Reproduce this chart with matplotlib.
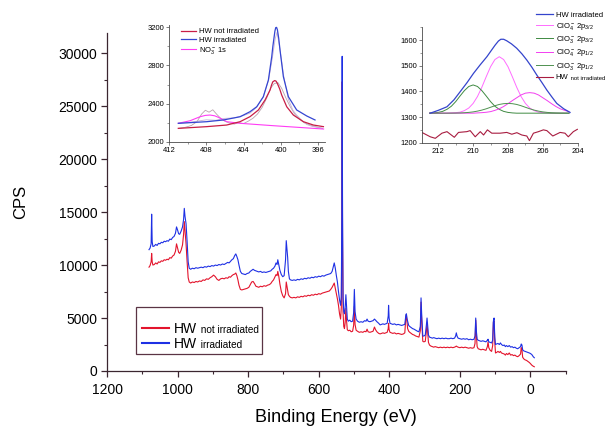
import matplotlib
matplotlib.use('Agg')
import matplotlib.pyplot as plt
from matplotlib.patches import Rectangle
from matplotlib.ticker import MultipleLocator, FixedLocator
from matplotlib.transforms import IdentityTransform

plt.rcParams['font.family'] = ['Liberation Sans', 'DejaVu Sans']
plt.rcParams['mathtext.fontset'] = 'custom'
plt.rcParams['mathtext.rm'] = 'Liberation Sans'
plt.rcParams['mathtext.it'] = 'Liberation Sans:italic'
plt.rcParams['mathtext.bf'] = 'Liberation Sans:bold'

# ---- survey spectrum (binding energy in eV, counts per second) ----
survey_be = [
    1081, 1078, 1075, 1073.5, 1072, 1070, 1066, 1062, 1058, 1054,
    1050, 1046, 1042, 1038, 1034, 1030, 1026, 1022, 1018, 1014,
    1010, 1006, 1003, 1000, 997, 994, 990, 986, 983, 981,
    979, 976, 973, 970, 967, 963, 958, 953, 948, 943,
    938, 933, 928, 923, 918, 913, 908, 903, 898, 893,
    888, 883, 878, 873, 868, 863, 858, 854, 850, 846,
    842, 838, 835, 832, 829, 826, 822, 818, 813, 808,
    803, 798, 794, 790, 786, 782, 778, 774, 770, 765,
    760, 755, 750, 745, 740, 736, 732, 728, 724, 721,
    718, 716, 713, 710, 706, 702, 698, 694, 692, 690,
    688, 686, 683, 680, 675, 670, 665, 660, 655, 650,
    645, 640, 635, 630, 625, 620, 615, 610, 605, 600,
    595, 590, 585, 580, 575, 570, 566, 562, 559, 556,
    553, 550, 547, 544, 541, 538, 536, 534.5, 533.5, 532.5,
    531, 529, 527, 525, 523, 521, 519, 516, 512, 508,
    504, 501, 499, 497, 494, 490, 485, 480, 475, 470,
    466, 463, 460, 455, 450, 446, 442, 439, 435, 430,
    426, 422, 418, 414, 410, 406, 403, 402, 400.5, 398,
    394, 390, 385, 380, 375, 370, 365, 360, 356, 353,
    351.5, 350, 348, 345, 342, 338, 334, 330, 325, 320,
    316, 312, 310, 308, 305, 302, 298, 295, 293, 291,
    289, 286, 282, 278, 274, 270, 265, 260, 255, 250,
    245, 240, 235, 230, 225, 220, 215, 212, 210, 208,
    205, 200, 195, 190, 185, 180, 175, 170, 165, 160,
    157, 155, 153, 151, 148, 144, 140, 135, 130, 126,
    122, 120, 118, 114, 110, 107, 105, 103, 101, 99,
    96, 92, 88, 85, 82, 78, 74, 71, 68, 64,
    60, 56, 52, 48, 44, 40, 36, 32, 28, 26,
    24, 22, 19, 15, 11, 7, 3, 0, -4, -8,
    -11,
]

survey_irr = [
    11450, 11600, 12000, 14800, 12200, 11750, 11800, 11950, 11850, 12050,
    12000, 12150, 12100, 12250, 12200, 12300, 12250, 12450, 12400, 12600,
    12700, 13000, 13600, 13300, 12950, 12900, 13200, 13600, 14300, 15350,
    14600, 13900, 12200, 10300, 9700, 9600, 9700, 9650, 9750, 9700,
    9750, 9800, 9750, 9850, 9800, 9900, 9850, 9950, 9900, 10000,
    9950, 10050, 10000, 10100, 10050, 10150, 10250, 10200, 10350, 10500,
    10600, 10900, 11050, 10800, 10500, 10000, 9400, 9200, 9150, 9100,
    9200, 9250, 9400, 9500, 9600, 9500, 9450, 9400, 9350, 9400,
    9300, 9350, 9300, 9350, 9400, 9450, 9600, 9700, 9900, 10200,
    10050, 10500, 10000, 9500, 9100, 8900, 9000, 10500, 12300, 11500,
    10700, 9400, 8700, 8600, 8550, 8600, 8550, 8650, 8600, 8700,
    8650, 8750, 8700, 8800, 8750, 8850, 8800, 8900, 8850, 8950,
    8900, 9000, 8950, 9050, 9100, 9150, 9200, 9400, 9800, 10200,
    9700, 9000, 8400, 7500, 6700, 6200, 7000, 15000, 29700, 15000,
    7000, 5600, 5400, 6000, 7200, 6000, 4900, 4700, 4800, 4650,
    4700, 5500, 7700, 5600, 4900, 4700, 4600, 4650, 4600, 4750,
    4700, 4900, 4700, 4650, 4700, 4750, 4900, 4800, 4650, 4500,
    4350, 4400, 4450, 4400, 4450, 4500, 5200, 6200, 5000, 4500,
    4450, 4400, 4450, 4350, 4400, 4350, 4300, 4350, 4400, 5300,
    5400, 5000, 4700, 4300, 4200, 4100, 4000, 3950, 3850, 3750,
    3700, 4200, 6900, 5200, 3300, 3300, 3400, 4300, 5000, 4200,
    3400, 3200, 3150, 3100, 3150, 3100, 3050, 3100, 3050, 3100,
    3050, 3100, 3050, 3050, 3100, 3050, 3100, 3300, 3600, 3300,
    3100, 3050, 3000, 3050, 3000, 3050, 2950, 3000, 2950, 3000,
    3300, 5000, 3700, 3000, 2900, 2850, 2800, 2850, 2800, 2750,
    2900, 3000, 2750, 2700, 2650, 2900, 4700, 5000, 3200, 2500,
    2550, 2600, 2500, 2650, 2500, 2400, 2450, 2300, 2400, 2300,
    2400, 2250, 2300, 2200, 2250, 2150, 2100, 2200, 2300, 2550,
    2450, 2000, 1900, 1850, 1800, 1750, 1700, 1650, 1550, 1350,
    1250,
]

survey_not = [
    9800, 9950, 10300, 11100, 10300, 10000, 10050, 10200, 10100, 10300,
    10250, 10400, 10350, 10500, 10450, 10550, 10500, 10700, 10650, 10850,
    10950, 11300, 12000, 11600, 11200, 11100, 11400, 11900, 12900, 14100,
    13300, 12000, 10300, 8800, 8400, 8300, 8400, 8350, 8450, 8400,
    8500, 8450, 8600, 8550, 8700, 8650, 8800, 8900, 9050, 8900,
    8650, 8550, 8700, 8750, 8700, 8800, 8750, 8900, 8850, 9000,
    9100, 9150, 9250, 9000, 8600, 8100, 7700, 7650, 7700, 7750,
    7800, 7900, 8150, 8400, 8450, 8250, 8000, 7950, 7900, 8000,
    7950, 8050, 8000, 8100, 8150, 8250, 8450, 8600, 8900, 9100,
    9000, 9400, 8900, 8200, 7500, 7100, 6900, 7300, 8400, 8000,
    7600, 7200, 7050, 6950, 6900, 6950, 6900, 7000, 6950, 7050,
    7000, 7100, 7050, 7150, 7100, 7200, 7150, 7250, 7200, 7300,
    7250, 7350, 7400, 7450, 7500, 7550, 7700, 7900, 8100, 8300,
    7800, 7300, 6800, 6200, 5400, 4900, 6000, 13000, 27300, 13000,
    5500, 4200, 4000, 4600, 5900, 4700, 3900, 3800, 3850, 3700,
    3750, 4300, 6100, 4400, 3850, 3750, 3650, 3700, 3650, 3750,
    3700, 3950, 3700, 3650, 3700, 3750, 4150, 3900, 3700, 3550,
    3500, 3550, 3600, 3550, 3600, 3650, 4000, 4500, 3900, 3650,
    3600, 3550, 3600, 3500, 3550, 3500, 3450, 3500, 3600, 5100,
    5300, 4700, 4000, 3750, 3650, 3550, 3450, 3400, 3300, 3250,
    3200, 3800, 6500, 4600, 2800, 2750, 2800, 3700, 4500, 3600,
    2700, 2450, 2350, 2300, 2250, 2300, 2250, 2200, 2250, 2200,
    2250, 2200, 2250, 2200, 2250, 2200, 2250, 2300, 2350, 2300,
    2250, 2200, 2250, 2200, 2250, 2200, 2150, 2200, 2150, 2200,
    2600, 4800, 3300, 2300, 2100, 2050, 2000, 2050, 2000, 1950,
    2300, 2750, 2200, 1950, 1850, 2400, 4600, 4700, 2700, 1700,
    1750, 1850, 1750, 1850, 1700, 1650, 1600, 1500, 1650, 1550,
    1700, 1500, 1550, 1450, 1500, 1400, 1350, 1450, 1600, 2200,
    2000, 1300, 1150, 1050, 1000, 900, 800, 700, 550, 450,
    400,
]

# ---- inset 1: N 1s region ----
n1s_irr_be = [411.0, 407.95, 406.16, 404.37, 403.3, 402.58, 401.87, 401.33, 400.97, 400.85,
              400.72, 400.63, 400.54, 400.45, 400.36, 400.22, 400.08, 399.72, 399.18, 398.29,
              397.21, 396.32]
n1s_irr = [2193, 2210, 2228, 2262, 2315, 2367, 2472, 2647, 2892, 3000,
           3095, 3160, 3198, 3200, 3175, 3085, 2962, 2682, 2472, 2333,
           2270, 2228]

n1s_not_be = [411.0, 407.95, 405.81, 404.37, 403.3, 402.4, 401.69, 401.15, 401.0, 400.86,
              400.65, 400.5, 400.36, 400.12, 399.9, 399.36, 398.65, 397.57, 396.5, 395.42]
n1s_not = [2140, 2158, 2175, 2210, 2263, 2333, 2437, 2542, 2592, 2628,
           2642, 2635, 2610, 2555, 2490, 2367, 2280, 2210, 2175, 2158]

no3_be = [411.0, 409.74, 408.67, 408.1, 407.6, 407.1, 406.7, 405.8, 404.37, 400.8, 395.4]
no3 = [2193, 2220, 2262, 2276, 2280, 2272, 2256, 2210, 2193, 2168, 2133]

raw_irr_be = [411, 410, 409, 408, 407, 406, 405, 404, 403.3, 402.6, 401.9, 401.3, 400.9,
              400.6, 400.4, 400.1, 399.7, 399.2, 398.7, 398.3, 397.8, 397.2, 396.6, 396.0, 395.5]
raw_irr = [2195, 2200, 2215, 2230, 2225, 2245, 2250, 2275, 2300, 2360, 2470, 2650, 2880,
           3080, 3150, 2980, 2700, 2450, 2330, 2280, 2230, 2180, 2160, 2150, 2140]

raw_not_be = [411, 410.3, 409.6, 409.0, 408.5, 408.1, 407.7, 407.3, 406.9, 406.5, 406.0,
              405.5, 405, 404.5, 404, 403.5, 403, 402.5, 402, 401.5, 401.1, 400.7, 400.3,
              399.9, 399.5, 399, 398.5, 398, 397.5, 397, 396.5, 396, 395.5]
raw_not = [2140, 2150, 2170, 2210, 2290, 2330, 2310, 2335, 2290, 2250, 2215,
           2195, 2185, 2200, 2190, 2215, 2245, 2290, 2360, 2460, 2560, 2610, 2620,
           2560, 2470, 2370, 2290, 2240, 2200, 2180, 2165, 2150, 2140]

# ---- inset 2: Cl 2p region ----
cl_be = [212.5, 212.25, 212, 211.75, 211.5, 211.25, 211, 210.75, 210.5, 210.25, 210,
         209.75, 209.5, 209.25, 209, 208.75, 208.5, 208.25, 208, 207.75, 207.5, 207.25,
         207, 206.75, 206.5, 206.25, 206, 205.75, 205.5, 205.25, 205, 204.75, 204.5]
cl_base = 1315
clo4_32 = [0, 0, 0, 0, 0, 1, 2, 4, 10, 20, 38, 65, 101, 142, 181, 209, 220,
           209, 181, 142, 101, 65, 38, 20, 10, 4, 2, 1, 0, 0, 0, 0, 0]
clo3_32 = [0.4, 1, 3, 7, 15, 27, 45, 67, 88, 104, 110, 104, 88, 67, 45, 27, 15,
           7, 3, 1, 0, 0, 0, 0, 0, 0, 0, 0, 0, 0, 0, 0, 0]
clo4_12 = [0, 0, 0, 0, 0, 0, 0, 0, 0, 0, 0, 1, 2, 3.5, 6, 11, 17,
           26, 37, 49, 60, 71, 78, 80, 78, 71, 60, 49, 37, 26, 17, 11, 6]
clo3_12 = [0, 0, 0, 0, 0.1, 0.2, 0.4, 0.9, 1.7, 3, 5, 8, 12, 17, 23, 29, 34,
           37, 38, 37, 34, 29, 23, 17, 12, 8, 5, 3, 1.7, 0.9, 0.4, 0.2, 0.1]

cl_irr_be = [212.46, 212.0, 211.5, 211.1, 210.74, 210.35, 209.98, 209.6, 209.21, 208.95,
             208.74, 208.55, 208.41, 208.25, 208.07, 207.8, 207.5, 207.2, 206.92, 206.63,
             206.35, 206.05, 205.77, 205.48, 205.2, 204.8, 204.44]
cl_irr = [1315, 1326, 1340, 1367, 1399, 1434, 1470, 1503, 1535, 1560,
          1580, 1596, 1603, 1603, 1597, 1585, 1568, 1546, 1522, 1494,
          1464, 1434, 1405, 1378, 1353, 1332, 1318]

cl_not_be = [212.94, 212.46, 212.17, 211.79, 211.5, 211.08, 210.84, 210.36, 210.17, 209.88,
             209.59, 209.4, 209.18, 208.93, 208.45, 208.07, 207.78, 207.49, 207.21, 206.92,
             206.77, 206.54, 206.25, 205.97, 205.77, 205.43, 205.01, 204.73, 204.54, 204.25, 204.02]
cl_not = [1240, 1223, 1217, 1237, 1243, 1221, 1240, 1243, 1247, 1223,
          1243, 1230, 1250, 1237, 1237, 1240, 1233, 1239, 1230, 1226,
          1208, 1237, 1243, 1250, 1247, 1226, 1240, 1237, 1223, 1243, 1252]

RED = '#e3142c'
BLUE = '#1e30e4'
AXC = '#3b2630'

fig = plt.figure(figsize=(6.06, 4.29), dpi=100)
fig.patch.set_facecolor('white')

# main survey axes
ax = fig.add_axes([0.1766, 0.1352, 0.7569, 0.7879])
l_not, = ax.plot(survey_be, survey_not, color=RED, lw=0.8)
l_irr, = ax.plot(survey_be, survey_irr, color=BLUE, lw=0.8)
ax.set_xlim(1200, -100)
ax.set_ylim(0, 31900)
ax.xaxis.set_major_locator(FixedLocator([1200, 1000, 800, 600, 400, 200, 0]))
ax.xaxis.set_minor_locator(MultipleLocator(100))
ax.yaxis.set_major_locator(MultipleLocator(5000))
ax.yaxis.set_minor_locator(MultipleLocator(2500))
for s in ['top', 'right']:
    ax.spines[s].set_visible(False)
for s in ['left', 'bottom']:
    ax.spines[s].set_color(AXC)
    ax.spines[s].set_linewidth(0.9)
ax.tick_params(which='major', direction='out', length=4.5, width=0.9, color=AXC,
               labelsize=10, pad=2.5)
ax.tick_params(axis='x', which='major', pad=4)
ax.tick_params(which='minor', direction='out', length=2.5, width=0.8, color=AXC)
ax.set_xlabel('Binding Energy (eV)', fontsize=13, labelpad=9)
ax.set_ylabel('CPS', fontsize=12, labelpad=22)

ax.add_patch(Rectangle((0.0626, 0.0503), 0.275, 0.139, transform=ax.transAxes,
                       fill=False, ec='#5a3444', lw=0.9))
leg = ax.legend([l_not, l_irr], ['HW', 'HW'], loc='center left',
                bbox_to_anchor=(0.0756, 0.103), frameon=False, fontsize=10,
                handlelength=1.95, handletextpad=0.4, labelspacing=0.05,
                borderpad=0, borderaxespad=0)
for h in leg.get_lines():
    h.set_linewidth(1.5)


def style_inset(a):
    for s in ['top', 'right']:
        a.spines[s].set_visible(False)
    for s in ['left', 'bottom']:
        a.spines[s].set_color('#4a4a4a')
        a.spines[s].set_linewidth(0.6)
    a.tick_params(which='major', direction='out', length=2, width=0.5,
                  color='#4a4a4a', labelsize=5.5, pad=1.5)
    a.tick_params(which='minor', direction='out', length=1.2, width=0.4,
                  color='#4a4a4a')
    a.patch.set_alpha(0)


# inset 1: N 1s
ax1 = fig.add_axes([0.2789, 0.6697, 0.2574, 0.272])
ax1.plot(raw_not_be, raw_not, color='#b9a3ad', lw=0.6)
ax1.plot(raw_irr_be, raw_irr, color='#c7b2d6', lw=0.6)
p_no3, = ax1.plot(no3_be, no3, color='#ff3cf5', lw=0.8)
p_not, = ax1.plot(n1s_not_be, n1s_not, color='#c81e46', lw=0.9)
p_irr, = ax1.plot(n1s_irr_be, n1s_irr, color='#3546d2', lw=0.9)
ax1.set_xlim(412, 395.25)
ax1.set_ylim(2000, 3225)
ax1.xaxis.set_major_locator(FixedLocator([412, 408, 404, 400, 396]))
ax1.xaxis.set_minor_locator(MultipleLocator(2))
ax1.yaxis.set_major_locator(MultipleLocator(400))
ax1.yaxis.set_minor_locator(MultipleLocator(200))
style_inset(ax1)
leg1 = ax1.legend([p_not, p_irr, p_no3],
                  ['HW not irradiated', 'HW irradiated', r'NO$_3^-$ 1s'],
                  loc='upper left', bbox_to_anchor=(0.058, 1.0), fontsize=5.5,
                  handlelength=2.0, handletextpad=0.4, labelspacing=0.15,
                  borderpad=0.4, borderaxespad=0, fancybox=False,
                  edgecolor='#c9b9c1', framealpha=0)
leg1.get_frame().set_linewidth(0.6)

# inset 2: Cl 2p
ax2 = fig.add_axes([0.6959, 0.6674, 0.2574, 0.2704])
c1, = ax2.plot(cl_be, [cl_base + v for v in clo4_32], color='#ff6cff', lw=0.7)
c2, = ax2.plot(cl_be, [cl_base + v for v in clo3_32], color='#3f8a42', lw=0.7)
c3, = ax2.plot(cl_be, [cl_base + v for v in clo4_12], color='#f23ef0', lw=0.7)
c4, = ax2.plot(cl_be, [cl_base + v for v in clo3_12], color='#4f9150', lw=0.7)
c0, = ax2.plot(cl_irr_be, cl_irr, color='#3444cc', lw=0.9)
c5, = ax2.plot(cl_not_be, cl_not, color='#a81c40', lw=0.8)
ax2.set_xlim(212.95, 204)
ax2.set_ylim(1200, 1652)
ax2.xaxis.set_major_locator(FixedLocator([212, 210, 208, 206, 204]))
ax2.xaxis.set_minor_locator(MultipleLocator(1))
ax2.yaxis.set_major_locator(MultipleLocator(100))
ax2.yaxis.set_minor_locator(MultipleLocator(50))
style_inset(ax2)
leg2 = fig.legend([c0, c1, c2, c3, c4, c5],
                  ['HW irradiated', r'ClO$_4^-$ 2p$_{3/2}$', r'ClO$_3^-$ 2p$_{3/2}$',
                   r'ClO$_4^-$ 2p$_{1/2}$', r'ClO$_3^-$ 2p$_{1/2}$', 'HW'],
                  loc='upper left', bbox_to_anchor=(0.879, 0.981), fontsize=5.5,
                  handlelength=2.2, handletextpad=0.4, labelspacing=0.3,
                  borderpad=0.4, borderaxespad=0, fancybox=False,
                  edgecolor='#c9b9c1', framealpha=0)
leg2.get_frame().set_linewidth(0.6)

# smaller "not irradiated" words after the HW labels
fig.canvas.draw()
renderer = fig.canvas.get_renderer()


def add_suffix(text_artist, suffix, size, big):
    bb = text_artist.get_window_extent(renderer)
    fig.text(bb.x1 + 1, bb.y0 + 0.21 * big * 100 / 72, suffix,
             transform=IdentityTransform(), fontsize=size, va='baseline', ha='left')


texts = leg.get_texts()
add_suffix(texts[0], ' not irradiated', 7.2, 10)
add_suffix(texts[1], ' irradiated', 7.2, 10)
add_suffix(leg2.get_texts()[5], ' not irradiated', 4.2, 5.5)

fig.savefig('out.png', dpi=100)
